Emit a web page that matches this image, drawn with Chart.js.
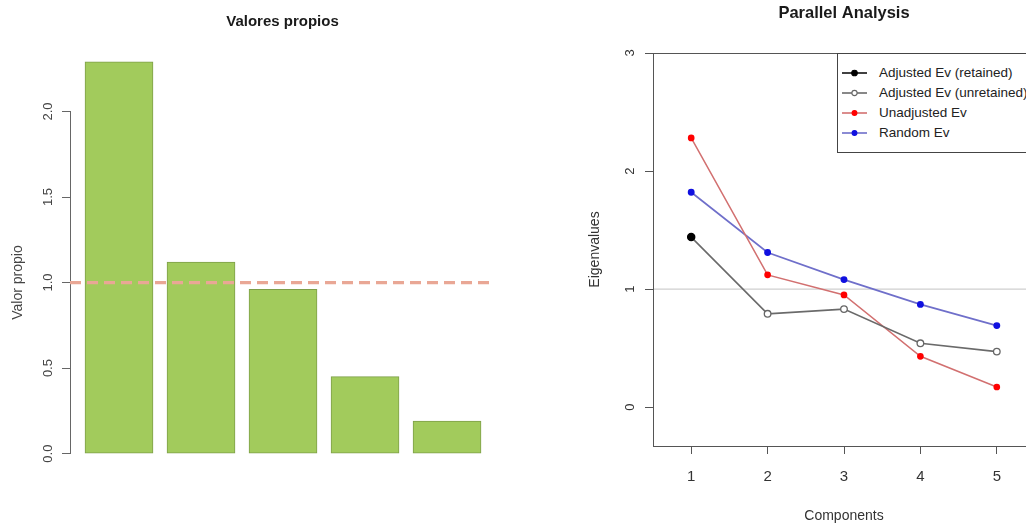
<!DOCTYPE html>
<html>
<head>
<meta charset="utf-8">
<script src="https://cdn.jsdelivr.net/npm/chart.js@4.4.0/dist/chart.umd.min.js"></script>
<style>
  html, body { margin: 0; padding: 0; background: #fff; overflow: hidden; }
  #page { position: relative; width: 1026px; height: 531px; overflow: hidden; background: #fff; }
  #eigenBars { position: absolute; left: 0; top: 0; }
  #parallel { position: absolute; left: 580px; top: 0; }
  #paLegend {
    position: absolute; left: 837px; top: 53px; width: 215px; height: 100px;
    box-sizing: border-box; border: 1px solid #444; background: #fff;
    font-family: "Liberation Sans", Arial, sans-serif; font-size: 13.5px; color: #222;
  }
  #paLegend .row { position: absolute; left: 4px; height: 20px; line-height: 20px; white-space: nowrap; }
  #paLegend .row svg { position: absolute; left: 0; top: 0; }
  #paLegend .row span { position: absolute; left: 37px; top: 0; }
</style>
</head>
<body>
<div id="page">
  <canvas id="eigenBars" width="520" height="531"></canvas>
  <canvas id="parallel" width="465" height="531"></canvas>
  <div id="paLegend"></div>
</div>
<script>
// Components and eigenvalues
const components = [1, 2, 3, 4, 5];
const valoresPropios = [2.29, 1.12, 0.96, 0.45, 0.19];

// Parallel analysis series
const adjustedEv = [1.44, 0.79, 0.83, 0.54, 0.47];
const unadjustedEv = [2.28, 1.12, 0.95, 0.43, 0.17];
const randomEv = [1.82, 1.31, 1.08, 0.87, 0.69];
const retainedCount = 1;

// Tick values and the Kaiser cut-off
const valorTicks = [0, 0.5, 1, 1.5, 2];
const eigenTicks = [0, 1, 2, 3];
const componentTicks = [1, 2, 3, 4, 5];
const kaiserCut = 1;

const FONT = '"Liberation Sans", Arial, sans-serif';
Chart.defaults.font.family = FONT;
Chart.defaults.color = '#444';

const points = (xs, ys) => xs.map((x, i) => ({ x: x, y: ys[i] }));

// Horizontal reference line at a given value of the y scale
const hLine = {
  id: 'hLine',
  beforeDatasetsDraw(chart, args, o) {
    if (o.onTop) return;
    draw(chart, o);
  },
  afterDatasetsDraw(chart, args, o) {
    if (!o.onTop) return;
    draw(chart, o);
  }
};
function draw(chart, o) {
  const { ctx, chartArea: a, scales: { y } } = chart;
  const py = y.getPixelForValue(o.value);
  ctx.save();
  ctx.strokeStyle = o.color;
  ctx.lineWidth = o.width;
  ctx.setLineDash(o.dash || []);
  ctx.beginPath();
  ctx.moveTo(a.left, py);
  ctx.lineTo(a.right, py);
  ctx.stroke();
  ctx.restore();
}

// Box around the plotting region
const plotFrame = {
  id: 'plotFrame',
  beforeDatasetsDraw(chart, args, o) {
    const { ctx, chartArea: a } = chart;
    ctx.save();
    ctx.strokeStyle = o.color;
    ctx.lineWidth = 1;
    ctx.strokeRect(Math.round(a.left) + 0.5, Math.round(a.top) + 0.5,
                   Math.round(a.right - a.left), Math.round(a.bottom - a.top));
    ctx.restore();
  }
};

// ---------- Valores propios (bar chart) ----------
new Chart(document.getElementById('eigenBars'), {
  type: 'bar',
  data: {
    datasets: [{
      label: 'Valor propio',
      data: points(components, valoresPropios),
      backgroundColor: '#a2cb5c',
      borderColor: '#7e9f49',
      borderWidth: 1,
      borderSkipped: false,
      barThickness: 68,
      clip: false
    }]
  },
  options: {
    responsive: false,
    animation: false,
    layout: { padding: { left: 0, right: 25, top: 0, bottom: 77.4 } },
    plugins: {
      legend: { display: false },
      tooltip: { enabled: false },
      title: {
        display: true, text: 'Valores propios', fullSize: false, color: '#1a1a1a',
        font: { size: 15, weight: 'bold' },
        padding: { top: 13, bottom: 80.5 }
      },
      hLine: { value: kaiserCut, color: '#e9a795', width: 3.2, dash: [11, 6], onTop: true }
    },
    scales: {
      x: { type: 'linear', display: false, min: 0.4024, max: 5.585, offset: false },
      y: {
        min: 0, max: 2,
        afterBuildTicks: s => { s.ticks = valorTicks.map(v => ({ value: v })); },
        afterFit: s => { s.width = 70; },
        border: { display: true, color: '#666', width: 1 },
        grid: { drawOnChartArea: false, drawTicks: true, tickLength: 8, tickColor: '#666' },
        ticks: {
          autoSkip: false, minRotation: 90, maxRotation: 90, crossAlign: 'center',
          padding: 4.7, color: '#444', font: { size: 13 },
          callback: v => Number(v).toFixed(1)
        },
        title: {
          display: true, text: 'Valor propio', color: '#444',
          font: { size: 14 }, padding: { top: 9.6, bottom: 0 }
        }
      }
    }
  },
  plugins: [hLine]
});

// ---------- Parallel Analysis (line chart) ----------
const retainedX = components.slice(0, retainedCount);
const unretainedX = components.slice(retainedCount - 1);

const paChart = new Chart(document.getElementById('parallel'), {
  type: 'line',
  data: {
    datasets: [
      {
        label: 'Adjusted Ev (retained)',
        data: points(retainedX, adjustedEv.slice(0, retainedCount)),
        borderColor: '#111', backgroundColor: '#111',
        pointBackgroundColor: '#000', pointBorderColor: '#000',
        pointRadius: 3.5, borderWidth: 1.5, legendRadius: 2.8
      },
      {
        label: 'Adjusted Ev (unretained)',
        data: points(unretainedX, adjustedEv.slice(retainedCount - 1)),
        borderColor: '#6a6a6a', backgroundColor: '#6a6a6a',
        pointBackgroundColor: '#fff', pointBorderColor: '#666',
        pointBorderWidth: 1.3, borderWidth: 1.6,
        pointRadius: c => (c.dataIndex === 0 ? 0 : 3.3), legendRadius: 2.6
      },
      {
        label: 'Unadjusted Ev',
        data: points(components, unadjustedEv),
        borderColor: '#d27070', backgroundColor: '#d27070',
        pointBackgroundColor: '#f00', pointBorderColor: '#f00',
        pointRadius: 2.6, borderWidth: 1.5, legendRadius: 2.4
      },
      {
        label: 'Random Ev',
        data: points(components, randomEv),
        borderColor: '#6f6fca', backgroundColor: '#6f6fca',
        pointBackgroundColor: '#1010e0', pointBorderColor: '#1010e0',
        pointRadius: 2.6, borderWidth: 1.7, legendRadius: 2.4
      }
    ]
  },
  options: {
    responsive: false,
    animation: false,
    elements: { line: { tension: 0 } },
    layout: { padding: { left: 0, right: 10, top: 0, bottom: 0 } },
    plugins: {
      legend: { display: false },
      tooltip: { enabled: false },
      title: {
        display: true, text: 'Parallel Analysis', fullSize: false, color: '#1a1a1a',
        font: { size: 16.5, weight: 'bold' },
        padding: { top: 3.6, bottom: 29.6 }
      },
      hLine: { value: kaiserCut, color: '#cfcfcf', width: 1.2, onTop: false },
      plotFrame: { color: '#555' }
    },
    scales: {
      x: {
        type: 'linear', min: 0.5, max: 5.5,
        afterBuildTicks: s => { s.ticks = componentTicks.map(v => ({ value: v })); },
        afterFit: s => { s.height = 85; },
        border: { display: false },
        grid: { drawOnChartArea: false, drawTicks: true, tickLength: 8, tickColor: '#555' },
        ticks: { autoSkip: false, maxRotation: 0, padding: 14, color: '#333', font: { size: 15 } },
        title: {
          display: true, text: 'Components', color: '#333',
          font: { size: 14 }, padding: { top: 0, bottom: 6.6 }
        }
      },
      y: {
        min: -0.33, max: 3,
        afterBuildTicks: s => { s.ticks = eigenTicks.map(v => ({ value: v })); },
        afterFit: s => { s.width = 73; },
        border: { display: false },
        grid: { drawOnChartArea: false, drawTicks: true, tickLength: 8, tickColor: '#555' },
        ticks: {
          autoSkip: false, minRotation: 90, maxRotation: 90, crossAlign: 'center',
          padding: 11.4, color: '#333', font: { size: 13 }
        },
        title: {
          display: true, text: 'Eigenvalues', color: '#333',
          font: { size: 14 }, padding: { top: 6.6, bottom: 0 }
        }
      }
    }
  },
  plugins: [hLine, plotFrame]
});

// Legend box built from the datasets of the parallel analysis chart
(function buildLegend(chart) {
  const box = document.getElementById('paLegend');
  const NS = 'http://www.w3.org/2000/svg';
  chart.data.datasets.forEach((ds, i) => {
    const row = document.createElement('div');
    row.className = 'row';
    row.style.top = (9.3 + 19.8 * i) + 'px';
    const svg = document.createElementNS(NS, 'svg');
    svg.setAttribute('width', '26');
    svg.setAttribute('height', '20');
    const ln = document.createElementNS(NS, 'line');
    ln.setAttribute('x1', '0'); ln.setAttribute('x2', '25');
    ln.setAttribute('y1', '10'); ln.setAttribute('y2', '10');
    ln.setAttribute('stroke', ds.borderColor);
    ln.setAttribute('stroke-width', '1.6');
    const dot = document.createElementNS(NS, 'circle');
    dot.setAttribute('cx', '12.5'); dot.setAttribute('cy', '10');
    dot.setAttribute('r', String(ds.legendRadius));
    dot.setAttribute('fill', ds.pointBackgroundColor);
    dot.setAttribute('stroke', ds.pointBorderColor);
    dot.setAttribute('stroke-width', '1.1');
    svg.appendChild(ln);
    svg.appendChild(dot);
    const txt = document.createElement('span');
    txt.textContent = ds.label;
    row.appendChild(svg);
    row.appendChild(txt);
    box.appendChild(row);
  });
})(paChart);
</script>
</body>
</html>
